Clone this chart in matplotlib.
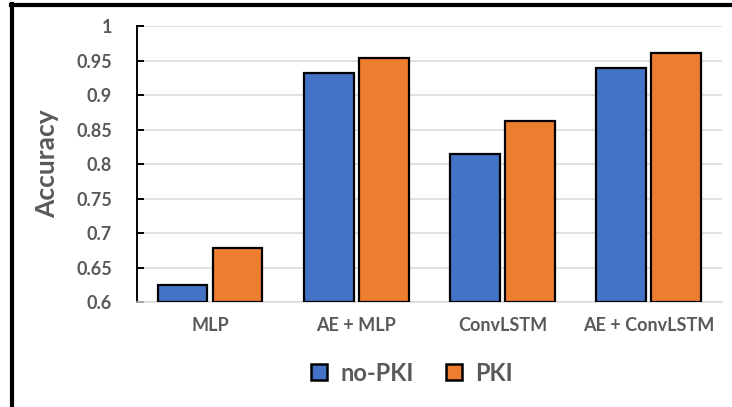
import matplotlib
matplotlib.use("Agg")
import matplotlib.pyplot as plt
from matplotlib.lines import Line2D
import numpy as np

plt.rcParams['font.family'] = ['Lato', 'DejaVu Sans']
plt.rcParams['font.weight'] = 'bold'

models = ["MLP", "AE + MLP", "ConvLSTM", "AE + ConvLSTM"]
no_pki = [0.624, 0.932, 0.814, 0.939]
pki = [0.678, 0.953, 0.862, 0.961]

BLUE = "#4472C4"
ORANGE = "#ED7D31"
GREY = "#595959"

fig = plt.figure(figsize=(7.32, 4.07), dpi=100)
ax = fig.add_axes([0.187, 0.258, 0.799, 0.678])

x = np.arange(len(models))
w = 0.34
ax.bar(x - 0.188, np.array(no_pki) - 0.6, w, bottom=0.6, color=BLUE,
       edgecolor="black", linewidth=1.6, label="no-PKI", zorder=3)
ax.bar(x + 0.188, np.array(pki) - 0.6, w, bottom=0.6, color=ORANGE,
       edgecolor="black", linewidth=1.6, label="PKI", zorder=3)

ax.set_ylim(0.6, 1.0)
ax.set_xlim(-0.5, len(models) - 0.5)
yt = np.arange(0.6, 1.0001, 0.05)
ax.set_yticks(yt)
ax.set_yticklabels([f"{v:g}" for v in np.round(yt, 2)])
ax.set_xticks(x)
ax.set_xticklabels(models)
ax.grid(axis="y", color="#D9D9D9", linewidth=1.1, zorder=0)

for s in ["top", "right"]:
    ax.spines[s].set_visible(False)
ax.spines["left"].set_color("black")
ax.spines["left"].set_linewidth(1.4)
ax.spines["bottom"].set_color("#D9D9D9")
ax.spines["bottom"].set_linewidth(1.1)

ax.tick_params(axis="y", direction="in", length=5, width=1.4, colors="black",
               labelcolor=GREY, labelsize=13, pad=18)
ax.tick_params(axis="x", length=0, labelcolor=GREY, labelsize=13, pad=11)
for lab in ax.get_xticklabels() + ax.get_yticklabels():
    lab.set_fontweight("bold")

ax.set_ylabel("Accuracy", fontsize=19, fontweight="bold", color=GREY, labelpad=12)

handles = [
    Line2D([], [], marker="s", linestyle="none", markersize=12,
           markerfacecolor=BLUE, markeredgecolor="black", markeredgewidth=1.8),
    Line2D([], [], marker="s", linestyle="none", markersize=12,
           markerfacecolor=ORANGE, markeredgecolor="black", markeredgewidth=1.8),
]
leg = fig.legend(handles, ["no-PKI", "PKI"], loc="center", bbox_to_anchor=(0.56, 0.083),
                 ncol=2, frameon=False, handlelength=1.0, handletextpad=0.4,
                 columnspacing=1.2, prop={"size": 17, "weight": "bold"})
for t in leg.get_texts():
    t.set_color(GREY)

# outer frame lines (top and left)
fig.add_artist(Line2D([0.015, 1.0], [0.988, 0.988], color="black", linewidth=3,
                      transform=fig.transFigure))
fig.add_artist(Line2D([0.017, 0.017], [0.0, 0.99], color="black", linewidth=3,
                      transform=fig.transFigure))

fig.savefig("out.png", dpi=100)
